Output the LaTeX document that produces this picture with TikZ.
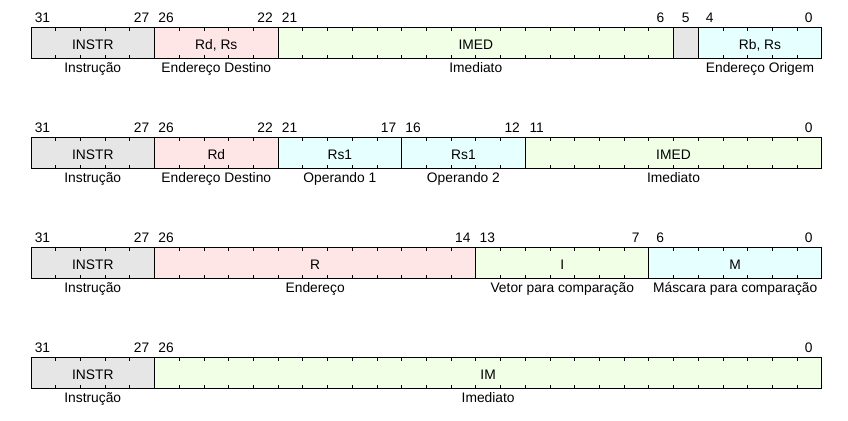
\documentclass[tikz,border=0pt]{standalone}
\usepackage{fontspec}
\setmainfont{Liberation Sans}
\definecolor{fgray}{HTML}{E6E6E6}
\definecolor{fpink}{HTML}{FFE6E6}
\definecolor{fgreen}{HTML}{F0FFE6}
\definecolor{fcyan}{HTML}{E6FFFF}
\tikzset{
  fieldbox/.style={draw=black, line width=0.8pt, inner sep=0pt, outer sep=0pt, minimum height=31pt, anchor=north west},
  fieldtext/.style={font=\fontsize{13.8}{15}\selectfont, anchor=base, inner sep=0pt},
  bitnum/.style={font=\fontsize{13.8}{15}\selectfont, anchor=base, inner sep=0pt},
  desc/.style={font=\fontsize{13.8}{15}\selectfont, anchor=base, inner sep=0pt},
  bittick/.style={draw=black, line width=0.7pt}
}
% #1 name, #2 hi bit, #3 lo bit, #4 top y, #5 fill, #6 text, #7 description
\newcommand\bitfield[7]{%
  \pgfmathsetmacro\bfxl{31+(31-#2)*24.71}%
  \pgfmathsetmacro\bfw{(#2-#3+1)*24.71}%
  \node[fieldbox, fill=#5, minimum width=\bfw pt] (#1) at (\bfxl pt,-#4 pt) {};
  \ifnum#2>#3\relax
    \foreach \b in {\the\numexpr#3+1\relax,...,#2}{%
      \pgfmathsetmacro\bfx{31+(32-\b)*24.71}%
      \draw[bittick] (\bfx pt,-#4 pt) -- ++(0,-3.3pt);
      \draw[bittick] (\bfx pt,-#4 pt-31pt) -- ++(0,3.3pt);
    }
    \node[bitnum] (#1-hi) at ([xshift=11.5pt,yshift=4.6pt]#1.north west) {#2};
    \node[bitnum] (#1-lo) at ([xshift=-13pt,yshift=4.6pt]#1.north east) {#3};
  \else
    \node[bitnum] (#1-hi) at ([yshift=4.6pt]#1.north) {#2};
  \fi
  \node[fieldtext] (#1-t) at ([yshift=-21.7pt]#1.north) {#6};
  \node[desc] (#1-d) at ([yshift=-45.4pt]#1.north) {#7};
}
\begin{document}
\begin{tikzpicture}
\useasboundingbox (0,0) rectangle (848pt,-420pt);
% Row 1
\bitfield{a1}{31}{27}{27.3}{fgray}{INSTR}{Instrução}
\bitfield{a2}{26}{22}{27.3}{fpink}{Rd, Rs}{Endereço Destino}
\bitfield{a3}{21}{6}{27.3}{fgreen}{IMED}{Imediato}
\bitfield{a4}{5}{5}{27.3}{fgray}{}{}
\bitfield{a5}{4}{0}{27.3}{fcyan}{Rb, Rs}{Endereço Origem}
% Row 2
\bitfield{b1}{31}{27}{137.3}{fgray}{INSTR}{Instrução}
\bitfield{b2}{26}{22}{137.3}{fpink}{Rd}{Endereço Destino}
\bitfield{b3}{21}{17}{137.3}{fcyan}{Rs1}{Operando 1}
\bitfield{b4}{16}{12}{137.3}{fcyan}{Rs1}{Operando 2}
\bitfield{b5}{11}{0}{137.3}{fgreen}{IMED}{Imediato}
% Row 3
\bitfield{c1}{31}{27}{247.3}{fgray}{INSTR}{Instrução}
\bitfield{c2}{26}{14}{247.3}{fpink}{R}{Endereço}
\bitfield{c3}{13}{7}{247.3}{fgreen}{I}{Vetor para comparação}
\bitfield{c4}{6}{0}{247.3}{fcyan}{M}{Máscara para comparação}
% Row 4
\bitfield{d1}{31}{27}{357.3}{fgray}{INSTR}{Instrução}
\bitfield{d2}{26}{0}{357.3}{fgreen}{IM}{Imediato}
\end{tikzpicture}
\end{document}
